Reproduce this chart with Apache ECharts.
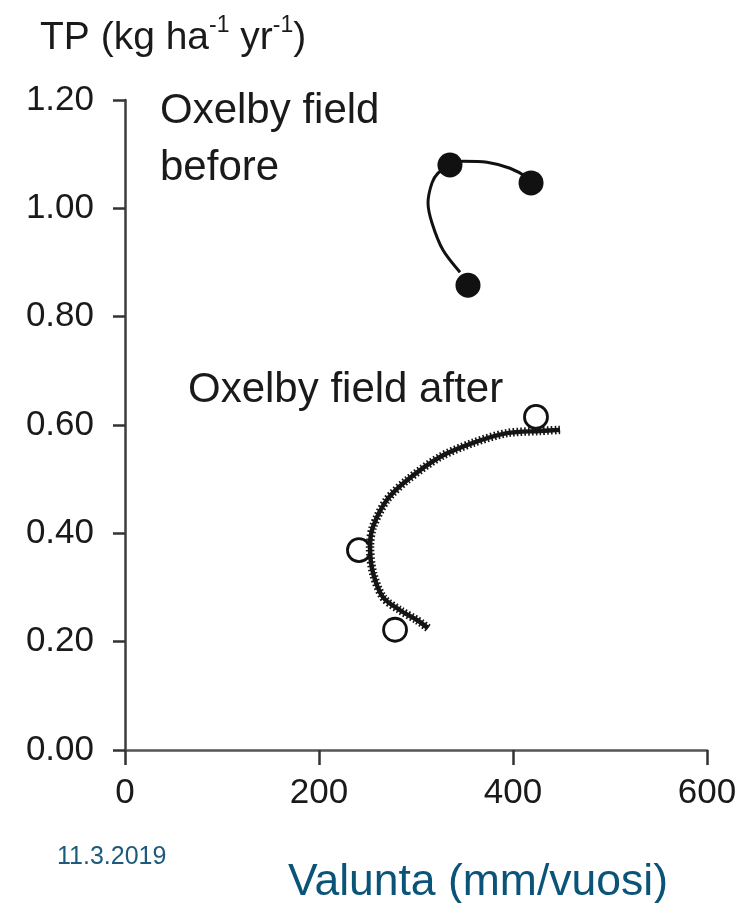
<!DOCTYPE html>
<html>
<head>
<meta charset="utf-8">
<script src="https://cdn.jsdelivr.net/npm/echarts@6/dist/echarts.min.js"></script>
<style>
html,body{margin:0;padding:0;background:#fff;}
#c{width:741px;height:903px;}
</style>
</head>
<body>
<div id="c"></div>
<script>
// Axis ticks
const xTicks = [0, 200, 400, 600];
const yTicks = [0, 0.2, 0.4, 0.6, 0.8, 1.0, 1.2];

// Oxelby field before (filled circles)
const beforeRunoff = [353.6, 335.0, 418.6];
const beforeTP = [0.858, 1.080, 1.047];
// fitted curve through "before" points
const beforeCurveRunoff = [345.4, 327.8, 316.5, 312.4, 316.5, 322.7, 335.0, 348.5, 373.2, 396.9, 414.4, 418.6];
const beforeCurveTP = [0.882, 0.923, 0.973, 1.010, 1.047, 1.065, 1.080, 1.087, 1.085, 1.074, 1.057, 1.047];

// Oxelby field after (open circles)
const afterRunoff = [423.7, 241.2, 278.4];
const afterTP = [0.615, 0.369, 0.222];
// fitted curve through "after" points
const afterCurveRunoff = [312.4, 301.0, 283.5, 266.0, 255.7, 252.6, 255.7, 270.1, 290.7, 324.7, 358.8, 393.8, 427.8, 448.5];
const afterCurveTP = [0.225, 0.240, 0.258, 0.282, 0.327, 0.375, 0.412, 0.462, 0.498, 0.541, 0.567, 0.585, 0.589, 0.591];

const zip = (a, b) => a.map((v, i) => [v, b[i]]);
const FONT = 'Liberation Sans';
const TXT = '#1a1a1a';

const chart = echarts.init(document.getElementById('c'), null, {renderer: 'canvas'});
chart.setOption({
  animation: false,
  backgroundColor: '#ffffff',
  grid: {left: 125, right: 34, top: 100, bottom: 153, containLabel: false},
  xAxis: {
    type: 'value', min: xTicks[0], max: xTicks[xTicks.length - 1], interval: 200,
    splitLine: {show: false},
    axisLine: {show: true, onZero: false, lineStyle: {color: '#555555', width: 2.5}},
    axisTick: {show: true, inside: false, length: 15, lineStyle: {color: '#333333', width: 2.5}},
    axisLabel: {margin: 26, fontFamily: FONT, fontSize: 35, color: TXT}
  },
  yAxis: {
    type: 'value', min: yTicks[0], max: yTicks[yTicks.length - 1], interval: 0.2,
    splitLine: {show: false},
    axisLine: {show: true, onZero: false, lineStyle: {color: '#3d3d3d', width: 2.5}},
    axisTick: {show: true, inside: false, length: 12, lineStyle: {color: '#333333', width: 2.5}},
    axisLabel: {margin: 31, fontFamily: FONT, fontSize: 35, color: TXT, formatter: v => v.toFixed(2)}
  },
  series: [
    {
      type: 'line', data: zip(beforeCurveRunoff, beforeCurveTP), smooth: 0.3,
      showSymbol: false, symbol: 'none', lineStyle: {color: '#111', width: 3, opacity: 1}, z: 2
    },
    {
      type: 'scatter', data: zip(beforeRunoff, beforeTP), symbol: 'circle', symbolSize: 25,
      itemStyle: {color: '#111', opacity: 1}, z: 3
    },
    {
      type: 'scatter', data: zip(afterRunoff, afterTP), symbol: 'circle', symbolSize: 23,
      itemStyle: {color: '#fff', borderColor: '#111', borderWidth: 2.8, opacity: 1}, z: 2
    },
    {
      type: 'line', data: zip(afterCurveRunoff, afterCurveTP), smooth: 0.3,
      showSymbol: false, symbol: 'none', lineStyle: {color: '#151515', width: 4.5, opacity: 1}, z: 4
    },
    {
      type: 'line', data: zip(afterCurveRunoff, afterCurveTP), smooth: 0.3,
      showSymbol: false, symbol: 'none', lineStyle: {color: '#151515', width: 8.5, type: [1.6, 2.2], opacity: 1}, z: 4
    }
  ],
  graphic: [
    {
      type: 'text', left: 40, top: 12,
      style: {
        text: '{a|TP (kg ha}{s|-1}{a| yr}{s|-1}{a|)}',
        rich: {
          a: {fontFamily: FONT, fontSize: 39, fill: TXT, lineHeight: 46, verticalAlign: 'bottom'},
          s: {fontFamily: FONT, fontSize: 23, fill: TXT, lineHeight: 46, verticalAlign: 'top', padding: [2, 0, 0, 0]}
        }
      }
    },
    {
      type: 'text', left: 160, top: 83,
      style: {text: 'Oxelby field\nbefore', fontFamily: FONT, fontSize: 42, lineHeight: 57, fill: TXT}
    },
    {
      type: 'text', left: 188, top: 369,
      style: {text: 'Oxelby field after', fontFamily: FONT, fontSize: 42, fill: TXT}
    },
    {
      type: 'text', left: 57, top: 845,
      style: {text: '11.3.2019', fontFamily: FONT, fontSize: 25, fill: '#1d5a7c'}
    },
    {
      type: 'text', left: 288, top: 860,
      style: {text: 'Valunta (mm/vuosi)', fontFamily: FONT, fontSize: 44.5, fill: '#0b5479'}
    }
  ]
});
</script>
</body>
</html>
